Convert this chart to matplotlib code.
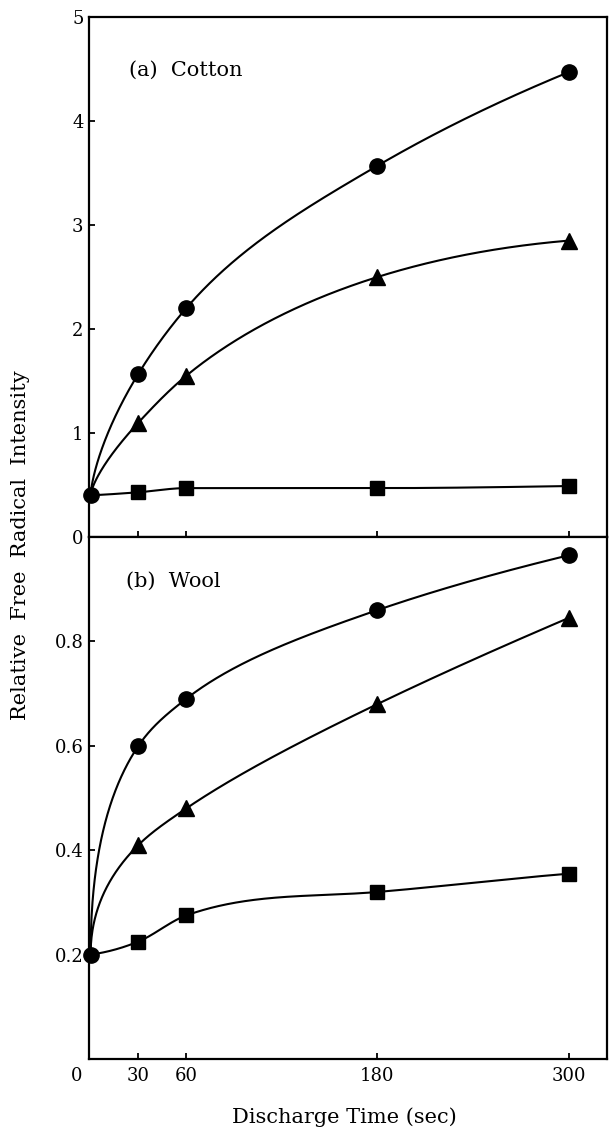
import numpy as np
import matplotlib
matplotlib.use("Agg")
import matplotlib.pyplot as plt
import matplotlib.transforms as mtransforms

# ---- data ----
time_sec = [0, 30, 60, 180, 300]
x_tick_labels = ["0", "30", "60", "180", "300"]

cotton_circle = [0.40, 1.57, 2.20, 3.57, 4.47]
cotton_triangle = [0.40, 1.10, 1.55, 2.50, 2.85]
cotton_square = [0.40, 0.43, 0.47, 0.47, 0.49]
cotton_yticks = [0, 1, 2, 3, 4, 5]

wool_circle = [0.20, 0.60, 0.69, 0.86, 0.965]
wool_triangle = [0.20, 0.41, 0.48, 0.68, 0.845]
wool_square = [0.20, 0.225, 0.275, 0.32, 0.355]
wool_yticks = [0.2, 0.4, 0.6, 0.8]
wool_yticklabels = ["0.2", "0.4", "0.6", "0.8"]


def hermite_curve(x, y, xs):
    """Smooth shape-preserving Hermite curve through the points (drawing only)."""
    x = np.asarray(x, float)
    y = np.asarray(y, float)
    n = len(x)
    h = np.diff(x)
    d = np.diff(y) / h
    m = np.zeros(n)
    for k in range(1, n - 1):
        m[k] = (h[k] * d[k - 1] + h[k - 1] * d[k]) / (h[k - 1] + h[k])
    m[0] = 2 * d[0] - m[1]
    m[-1] = 2 * d[-1] - m[-2]
    for k in range(n - 1):
        if d[k] == 0:
            m[k] = m[k + 1] = 0.0
            continue
        a, b = m[k] / d[k], m[k + 1] / d[k]
        if a < 0:
            m[k] = 0.0; a = 0.0
        if b < 0:
            m[k + 1] = 0.0; b = 0.0
        s = a * a + b * b
        if s > 9:
            t = 3 / np.sqrt(s)
            m[k] = t * a * d[k]
            m[k + 1] = t * b * d[k]
    xs = np.asarray(xs, float)
    k = np.clip(np.searchsorted(x, xs) - 1, 0, n - 2)
    t = (xs - x[k]) / h[k]
    h00 = 2 * t**3 - 3 * t**2 + 1
    h10 = t**3 - 2 * t**2 + t
    h01 = -2 * t**3 + 3 * t**2
    h11 = t**3 - t**2
    return (h00 * y[k] + h10 * h[k] * m[k]
            + h01 * y[k + 1] + h11 * h[k] * m[k + 1])


def smooth_curve(x, y, xs, power=1.0):
    # interpolate against x**power so fast initial rises stay smooth
    xp = np.asarray(x, float) ** power
    return hermite_curve(xp, y, np.asarray(xs, float) ** power)


plt.rcParams['font.family'] = ['DejaVu Serif']

fig = plt.figure(figsize=(6.09, 11.29), dpi=100)
left, right = 89 / 609, 607 / 609
ax_top = fig.add_axes([left, 1 - 537 / 1129, right - left, 520 / 1129])
ax_bot = fig.add_axes([left, 1 - 1059 / 1129, right - left, 522 / 1129])

xs = np.linspace(time_sec[0], time_sec[-1], 1500)
lw = 1.5

def draw(ax, circ, tri, sq, powers):
    for ser, p in zip((circ, tri, sq), powers):
        ax.plot(xs, smooth_curve(time_sec, ser, xs, p), color='black', lw=lw,
                solid_capstyle='round', zorder=2)
    ax.plot(time_sec, circ, 'o', color='black', ms=11, zorder=3,
            clip_on=False)
    ax.plot(time_sec[1:], tri[1:], '^', color='black', ms=11.5, zorder=3,
            clip_on=False)
    ax.plot(time_sec[1:], sq[1:], 's', color='black', ms=9.5, zorder=3,
            clip_on=False)

draw(ax_top, cotton_circle, cotton_triangle, cotton_square, (0.7, 0.7, 1.0))
draw(ax_bot, wool_circle, wool_triangle, wool_square, (0.5, 0.5, 1.0))

for ax in (ax_top, ax_bot):
    ax.set_xlim(-1, 324)
    for s in ax.spines.values():
        s.set_linewidth(1.6)
    ax.tick_params(direction='in', length=4, width=1.3, labelsize=13,
                   pad=4)

# top panel
ax_top.set_ylim(0, 5)
ax_top.set_yticks(cotton_yticks)
ax_top.set_yticklabels([str(v) for v in cotton_yticks])
ax_top.set_xticks(time_sec[1:])
ax_top.tick_params(axis='x', labelbottom=False)
ax_top.text(24, 4.49, "(a)  Cotton", fontsize=15, va='center', ha='left')

# bottom panel
ax_bot.set_ylim(0, 1.0)
ax_bot.set_yticks(wool_yticks)
ax_bot.set_yticklabels(wool_yticklabels)
ax_bot.set_xticks(time_sec)
ax_bot.set_xticklabels(x_tick_labels)
ax_bot.tick_params(axis='x', pad=6)
zero_lbl = ax_bot.get_xticklabels()[0]
zero_lbl.set_transform(zero_lbl.get_transform() +
                       mtransforms.ScaledTranslation(-14 / 100, 0,
                                                     fig.dpi_scale_trans))
ax_bot.xaxis.get_major_ticks()[0].tick1line.set_visible(False)
ax_bot.text(22, 0.915, "(b)  Wool", fontsize=15, va='center', ha='left')

fig.text(21 / 609, 1 - 545 / 1129, "Relative  Free  Radical  Intensity",
         rotation=90, fontsize=15, ha='center', va='center')
fig.text(344 / 609, 1 - 1117 / 1129, "Discharge Time (sec)",
         fontsize=15, ha='center', va='center')

fig.savefig("out.png", dpi=100)
